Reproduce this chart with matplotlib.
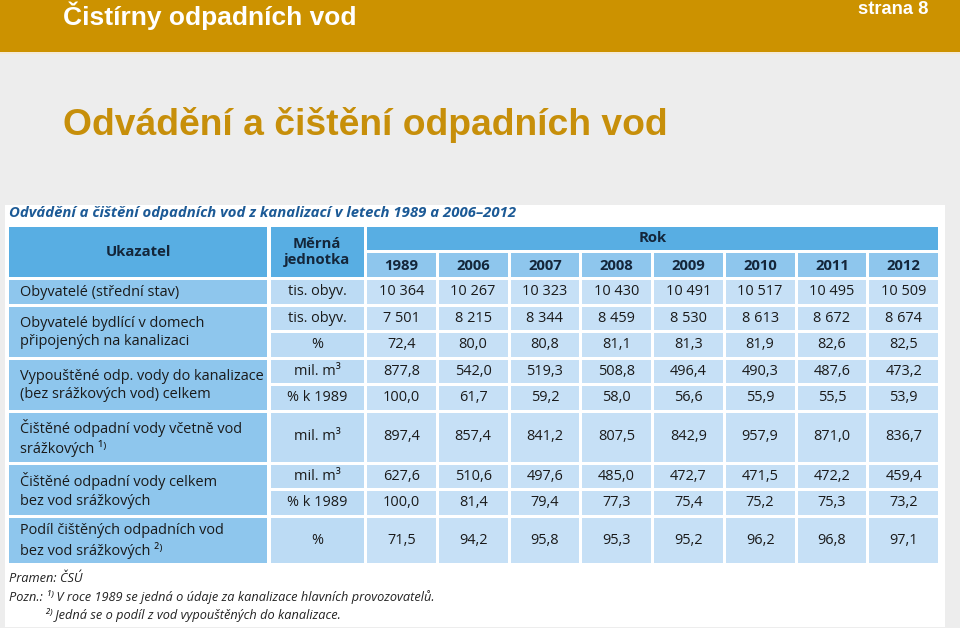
import matplotlib
matplotlib.use("Agg")
import matplotlib.pyplot as plt
from matplotlib.patches import Rectangle

# ---------------- data ----------------
page_title = "Čistírny odpadních vod"
page_no = "strana 8"
slide_title = "Odvádění a čištění odpadních vod"
table_title = "Odvádění a čištění odpadních vod z kanalizací v letech 1989 a 2006–2012"

years = ["1989", "2006", "2007", "2008", "2009", "2010", "2011", "2012"]

indicators = [
    "Obyvatelé (střední stav)",
    "Obyvatelé bydlící v domech\npřipojených na kanalizaci",
    "Vypouštěné odp. vody do kanalizace\n(bez srážkových vod) celkem",
    "Čištěné odpadní vody včetně vod\nsrážkových ¹⁾",
    "Čištěné odpadní vody celkem\nbez vod srážkových",
    "Podíl čištěných odpadních vod\nbez vod srážkových ²⁾",
]
indicator_units = [
    ["tis. obyv."],
    ["tis. obyv.", "%"],
    ["mil. m³", "% k 1989"],
    ["mil. m³"],
    ["mil. m³", "% k 1989"],
    ["%"],
]

obyvatele = ["10 364", "10 267", "10 323", "10 430", "10 491", "10 517", "10 495", "10 509"]
pripojeni_tis = ["7 501", "8 215", "8 344", "8 459", "8 530", "8 613", "8 672", "8 674"]
pripojeni_pct = ["72,4", "80,0", "80,8", "81,1", "81,3", "81,9", "82,6", "82,5"]
vypoustene_mil = ["877,8", "542,0", "519,3", "508,8", "496,4", "490,3", "487,6", "473,2"]
vypoustene_pct = ["100,0", "61,7", "59,2", "58,0", "56,6", "55,9", "55,5", "53,9"]
cistene_vc_sraz = ["897,4", "857,4", "841,2", "807,5", "842,9", "957,9", "871,0", "836,7"]
cistene_mil = ["627,6", "510,6", "497,6", "485,0", "472,7", "471,5", "472,2", "459,4"]
cistene_pct = ["100,0", "81,4", "79,4", "77,3", "75,4", "75,2", "75,3", "73,2"]
podil_pct = ["71,5", "94,2", "95,8", "95,3", "95,2", "96,2", "96,8", "97,1"]

row_values = [obyvatele, pripojeni_tis, pripojeni_pct, vypoustene_mil, vypoustene_pct,
              cistene_vc_sraz, cistene_mil, cistene_pct, podil_pct]

source_note = "Pramen: ČSÚ"
note1 = "Pozn.: ¹⁾ V roce 1989 se jedná o údaje za kanalizace hlavních provozovatelů."
note2 = "²⁾ Jedná se o podíl z vod vypouštěných do kanalizace."

# ---------------- style / layout ----------------
W, H = 960, 628
GOLD = "#CC9200"
TITLE_GOLD = "#C78F0A"
BG = "#EDEDED"
HDR_DARK = "#58AEE3"
HDR_MID = "#8EC6ED"
UNIT_C = "#BCDBF4"
DATA_C = "#C6E0F6"
TXT = "#1a1a1a"
HDR_TXT = "#14263a"
TT_BLUE = "#1C5A96"

TFONT = ["Open Sans", "DejaVu Sans"]
HFONT = ["Liberation Sans", "DejaVu Sans"]

fig = plt.figure(figsize=(W / 100, H / 100), dpi=100)
fig.patch.set_facecolor(BG)
ax = fig.add_axes([0, 0, 1, 1])
ax.set_xlim(0, W)
ax.set_ylim(H, 0)
ax.axis("off")

def rect(x0, y0, x1, y1, color, **kw):
    ax.add_patch(Rectangle((x0, y0), x1 - x0, y1 - y0, facecolor=color, edgecolor="none", **kw))

# top band
rect(0, 0, W, 52, GOLD)
rect(0, 52, W, 54, "#F4E9D6")
ax.text(63, 16, page_title, color="white", fontsize=19, fontweight="bold",
        family=HFONT, va="center", ha="left")
ax.text(928, 9, page_no, color="white", fontsize=13.2, fontweight="bold",
        family=HFONT, va="center", ha="right")
ax.text(63, 125, slide_title, color=TITLE_GOLD, fontsize=26.8, fontweight="bold",
        family=HFONT, va="center", ha="left")

# white panel
rect(5, 205, 945, 627, "white")
ax.text(9, 213, table_title, color=TT_BLUE, fontsize=10.7, fontweight="bold",
        style="italic", family=TFONT, va="center", ha="left")

# columns
gap = 3
col0 = (9, 267)
col1 = (270.5, 363.5)
yr_x0, yr_x1 = 367, 938
ncol = len(years)
yw = (yr_x1 - yr_x0 - gap * (ncol - 1)) / ncol
year_cols = [(yr_x0 + i * (yw + gap), yr_x0 + i * (yw + gap) + yw) for i in range(ncol)]

FS = 10.45

# header
rok_y = (227, 250)
yrs_y = (253, 277)
rect(col0[0], rok_y[0], col0[1], yrs_y[1], HDR_DARK)
rect(col1[0], rok_y[0], col1[1], yrs_y[1], HDR_DARK)
rect(yr_x0, rok_y[0], yr_x1, rok_y[1], HDR_DARK)
ax.text((col0[0] + col0[1]) / 2, (rok_y[0] + yrs_y[1]) / 2, "Ukazatel", fontsize=FS + 0.3,
        fontweight="bold", family=TFONT, color=HDR_TXT, ha="center", va="center")
ax.text((col1[0] + col1[1]) / 2, (rok_y[0] + yrs_y[1]) / 2, "Měrná\njednotka", fontsize=FS + 0.3,
        fontweight="bold", family=TFONT, color=HDR_TXT, ha="center", va="center",
        linespacing=1.25)
ax.text((yr_x0 + yr_x1) / 2, (rok_y[0] + rok_y[1]) / 2, "Rok", fontsize=FS + 0.3,
        fontweight="bold", family=TFONT, color=HDR_TXT, ha="center", va="center")
for (x0, x1), yr in zip(year_cols, years):
    rect(x0, yrs_y[0], x1, yrs_y[1], HDR_MID)
    ax.text((x0 + x1) / 2, (yrs_y[0] + yrs_y[1]) / 2 + 1, yr, fontsize=FS + 0.3,
            fontweight="bold", family=TFONT, color=HDR_TXT, ha="center", va="center")

# body rows
sub_h = [23.5, 23.5, 23.5, 23.5, 23.5, 49, 23.5, 23.5, 45]
y = 280
sub_tops = []
for h in sub_h:
    sub_tops.append((y, y + h))
    y += h + gap

k = 0
for label, units in zip(indicators, indicator_units):
    n = len(units)
    top = sub_tops[k][0]
    bot = sub_tops[k + n - 1][1]
    rect(col0[0], top, col0[1], bot, HDR_MID)
    ax.text(20, (top + bot) / 2 + 1, label, fontsize=FS, family=TFONT, color=TXT,
            ha="left", va="center", linespacing=1.3)
    for j, u in enumerate(units):
        t, b = sub_tops[k + j]
        rect(col1[0], t, col1[1], b, UNIT_C)
        ax.text((col1[0] + col1[1]) / 2, (t + b) / 2, u, fontsize=FS, family=TFONT,
                color=TXT, ha="center", va="center")
        for (x0, x1), v in zip(year_cols, row_values[k + j]):
            rect(x0, t, x1, b, DATA_C)
            ax.text((x0 + x1) / 2, (t + b) / 2, v, fontsize=FS, family=TFONT,
                    color=TXT, ha="center", va="center")
    k += n

# notes
NFS = 9.2
ax.text(9, 579, source_note, fontsize=NFS, style="italic", family=TFONT, color="#222222",
        ha="left", va="center")
ax.text(9, 597, note1, fontsize=NFS, style="italic", family=TFONT, color="#222222",
        ha="left", va="center")
ax.text(45, 615, note2, fontsize=NFS, style="italic", family=TFONT, color="#222222",
        ha="left", va="center")

fig.savefig("out.png", dpi=100, facecolor=fig.get_facecolor())
